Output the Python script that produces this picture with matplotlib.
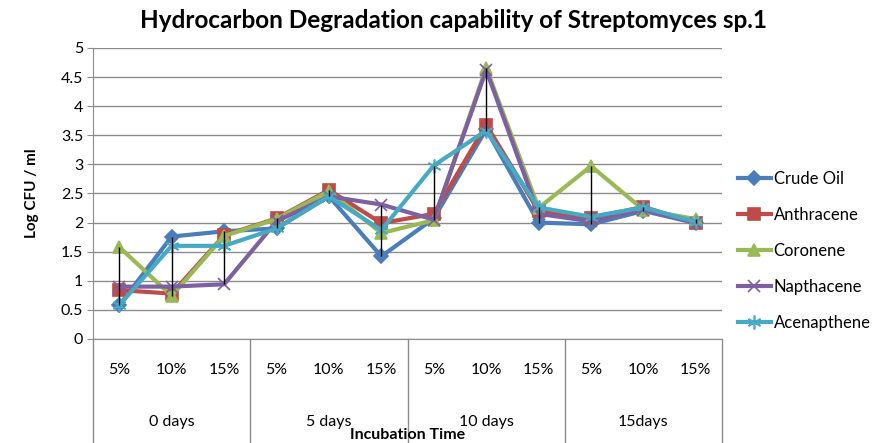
import matplotlib
matplotlib.use("Agg")
import matplotlib.pyplot as plt
import numpy as np

plt.rcParams['font.family'] = ['Lato', 'DejaVu Sans']

conc = ['5%', '10%', '15%'] * 4
groups = ['0 days', '5 days', '10 days', '15days']

series_names = ['Crude Oil', 'Anthracene', 'Coronene', 'Napthacene', 'Acenapthene']
crude_oil = [0.58, 1.76, 1.85, 1.9, 2.45, 1.42, 2.07, 3.6, 2.0, 1.97, 2.2, 1.99]
anthracene = [0.84, 0.78, 1.78, 2.07, 2.56, 1.99, 2.15, 3.68, 2.2, 2.08, 2.27, 1.99]
coronene = [1.58, 0.74, 1.77, 2.06, 2.54, 1.82, 2.04, 4.66, 2.25, 2.97, 2.22, 2.06]
napthacene = [0.9, 0.9, 0.94, 2.02, 2.45, 2.31, 2.05, 4.62, 2.15, 2.02, 2.22, 2.0]
acenapthene = [0.58, 1.6, 1.6, 1.9, 2.45, 1.87, 2.98, 3.58, 2.26, 2.1, 2.26, 2.01]

colors = ['#4A7EBB', '#BE4B48', '#98B954', '#7D60A0', '#46AAC5']
markers = ['D', 's', '^', 'x', (6, 2, 0)]
msizes = [7, 9, 9, 9, 10]

data = [crude_oil, anthracene, coronene, napthacene, acenapthene]

fig = plt.figure(figsize=(8.81, 4.43), dpi=100)
ax = fig.add_axes([0.1056, 0.2348, 0.714, 0.657])

x = np.arange(len(conc))
for vals, name, c, m, ms in zip(data, series_names, colors, markers, msizes):
    ax.plot(x, vals, color=c, lw=3, marker=m, markersize=ms,
            markeredgecolor=c, markeredgewidth=1.2, label=name, zorder=3)

arr = np.array(data)
ax.vlines(x, arr.min(axis=0), arr.max(axis=0), color='black', lw=1, zorder=5)

ax.set_xlim(-0.5, len(conc) - 0.5)
ax.set_ylim(0, 5)
ax.set_yticks(np.arange(0, 5.01, 0.5))
ax.set_yticklabels(['0', '0.5', '1', '1.5', '2', '2.5', '3', '3.5', '4', '4.5', '5'])
ax.yaxis.grid(True, color='#8C8C8C', lw=1)
ax.set_axisbelow(True)
ax.tick_params(axis='y', length=4, color='#8C8C8C', labelsize=11.5, pad=3)
ax.set_xticks([])
for s in ['top', 'right']:
    ax.spines[s].set_visible(False)
ax.spines['left'].set_color('#8C8C8C')
ax.spines['bottom'].set_color('#8C8C8C')

# multi-level category axis
trans = ax.get_xaxis_transform()
for xi, lab in zip(x, conc):
    ax.text(xi, -0.105, lab, transform=trans, ha='center', va='center', fontsize=11.5)
for gi, g in enumerate(groups):
    ax.text(gi * 3 + 1, -0.285, g, transform=trans, ha='center', va='center', fontsize=11.5)
for b in range(5):
    ax.plot([b * 3 - 0.5, b * 3 - 0.5], [0, -0.36], transform=trans, color='#8C8C8C',
            lw=1, clip_on=False)

ax.text(0.5, -0.33, 'Incubation Time', transform=ax.transAxes, ha='center', va='center',
        fontsize=11.5, fontweight='bold')
ax.set_ylabel('Log CFU / ml', fontsize=11, fontweight='bold', labelpad=16)

fig.suptitle('Hydrocarbon Degradation capability of Streptomyces sp.1', x=0.515, y=0.98,
             fontsize=17.5, fontweight='bold')

fig.legend(loc='center left', bbox_to_anchor=(0.828, 0.433), frameon=False, fontsize=12,
           handlelength=2.0, labelspacing=1.2, handletextpad=0.15, borderpad=0)

fig.savefig('out.png', dpi=100)
